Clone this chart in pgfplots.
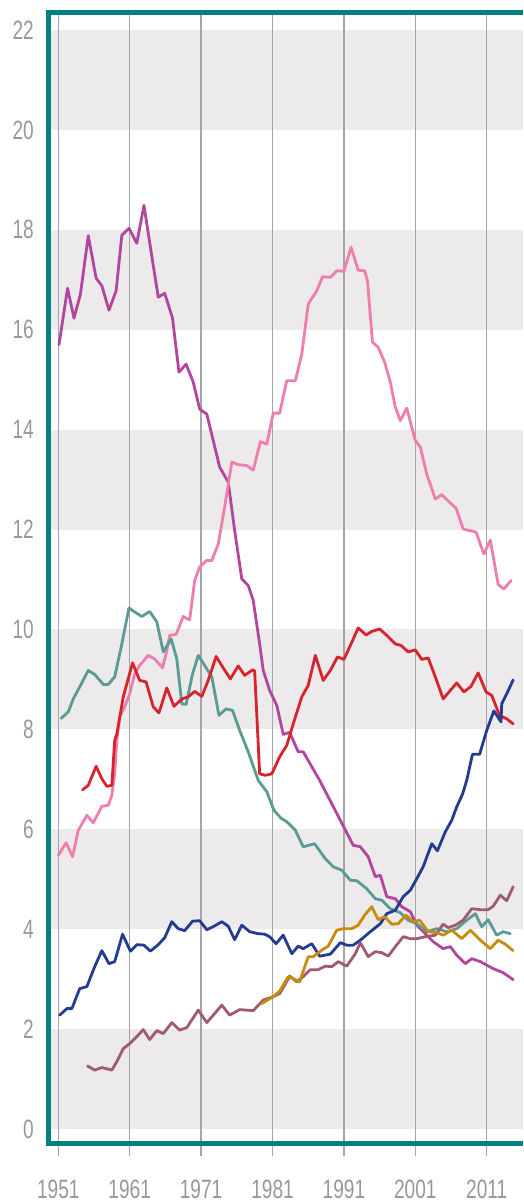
\documentclass[border=0pt]{standalone}
\usepackage{fontspec}
\setmainfont{Liberation Sans}[FakeStretch=0.72]
\usepackage{pgfplots}
\pgfplotsset{compat=1.18}
\definecolor{axisteal}{RGB}{0,128,133}
\definecolor{bandgray}{RGB}{236,234,235}
\definecolor{gridgray}{RGB}{165,165,165}
\definecolor{labelgray}{RGB}{152,152,156}
\definecolor{cpurple}{RGB}{178,70,158}
\definecolor{cpink}{RGB}{240,125,175}
\definecolor{cteal}{RGB}{90,155,148}
\definecolor{cred}{RGB}{215,35,45}
\definecolor{cblue}{RGB}{35,60,145}
\definecolor{cmauve}{RGB}{160,90,115}
\definecolor{cgold}{RGB}{200,140,10}
\begin{document}
\begin{tikzpicture}
\path[use as bounding box] (0,0) rectangle (523pt,1202pt);
\begin{axis}[
  at={(48.5pt,58.5pt)}, anchor=south west,
  scale only axis, width=474.5pt, height=1131pt,
  xmin=1949.63, xmax=2016.08, ymin=-0.29, ymax=22.35,
  axis line style={draw=none},
  major tick length=0pt,
  clip=false,
  xtick={1951,1961,1971,1981,1991,2001,2011},
  xticklabels={1951,1961,1971,1981,1991,2001,2011},
  ytick={0,2,4,6,8,10,12,14,16,18,20,22},
  yticklabels={0,2,4,6,8,10,12,14,16,18,20,22},
  tick label style={font=\fontsize{26.5}{30}\selectfont, text=labelgray, inner sep=0pt},
  xticklabel style={anchor=north, yshift=-36.5pt},
  yticklabel style={anchor=east, xshift=-14.5pt},
  every axis plot/.append style={line width=2.8pt, line join=round, line cap=round, no markers},
]
% bands
\fill[bandgray] (axis cs:1949.63,0) rectangle (axis cs:2016.08,2);
\fill[bandgray] (axis cs:1949.63,4) rectangle (axis cs:2016.08,6);
\fill[bandgray] (axis cs:1949.63,8) rectangle (axis cs:2016.08,10);
\fill[bandgray] (axis cs:1949.63,12) rectangle (axis cs:2016.08,14);
\fill[bandgray] (axis cs:1949.63,16) rectangle (axis cs:2016.08,18);
\fill[bandgray] (axis cs:1949.63,20) rectangle (axis cs:2016.08,22);
% grid lines
\pgfplotsinvokeforeach{1951,1961,1971,1981,1991,2001,2011}{
  \draw[gridgray, line width=1.3pt] (axis cs:#1,22.35) -- (axis cs:#1,-0.29) -- ++(0pt,-12.5pt);
}
% purple
\addplot[cpurple] coordinates {
(1951.1,15.70) (1952.3,16.83) (1953.2,16.23) (1954.1,16.71) (1955.2,17.88) (1956.3,17.03) (1957.1,16.88) (1958.1,16.39) (1959.1,16.78) (1959.9,17.89) (1960.9,18.03) (1962.0,17.73) (1963.0,18.49) (1963.9,17.65) (1965.0,16.65) (1965.9,16.73) (1967.0,16.23) (1967.9,15.15) (1968.9,15.31) (1969.9,14.95) (1970.8,14.41) (1971.8,14.31) (1972.7,13.78) (1973.6,13.25) (1974.8,12.95) (1975.7,11.98) (1976.7,11.01) (1977.6,10.88) (1978.3,10.58) (1979.2,9.71) (1979.7,9.18) (1980.6,8.78) (1981.6,8.48) (1982.5,7.90) (1983.4,7.94) (1984.6,7.55) (1985.3,7.55) (1987.6,6.98) (1990.5,6.18) (1992.3,5.68) (1993.3,5.65) (1994.4,5.45) (1995.4,5.05) (1996.1,5.08) (1997.0,4.65) (1998.2,4.61) (1999.1,4.45) (2000.3,4.35) (2001.2,4.08) (2002.6,3.88) (2003.5,3.75) (2004.9,3.61) (2005.9,3.65) (2006.8,3.48) (2008.0,3.31) (2008.9,3.41) (2010.1,3.35) (2011.9,3.21) (2013.3,3.13) (2014.7,2.99)
};
% pink
\addplot[cpink] coordinates {
(1951.0,5.48) (1952.1,5.73) (1953.0,5.45) (1953.8,5.98) (1955.0,6.28) (1955.9,6.13) (1957.1,6.46) (1958.0,6.48) (1958.5,6.68) (1958.9,7.11) (1959.2,7.78) (1959.6,8.25) (1960.3,8.45) (1961.0,8.71) (1961.7,9.11) (1962.4,9.28) (1963.6,9.48) (1964.5,9.41) (1965.6,9.23) (1966.2,9.58) (1966.6,9.88) (1967.5,9.90) (1968.5,10.26) (1969.4,10.19) (1970.1,10.98) (1970.8,11.25) (1971.8,11.38) (1972.5,11.38) (1973.4,11.71) (1974.3,12.45) (1975.3,13.35) (1976.2,13.30) (1977.4,13.28) (1978.3,13.19) (1979.3,13.76) (1980.2,13.71) (1981.1,14.33) (1982.0,14.33) (1983.0,14.98) (1984.2,14.98) (1985.1,15.51) (1986.0,16.51) (1987.2,16.78) (1988.0,17.06) (1989.1,17.05) (1990.0,17.18) (1991.0,17.17) (1992.0,17.65) (1993.0,17.19) (1993.9,17.18) (1994.3,16.98) (1995.0,15.75) (1995.8,15.65) (1996.7,15.35) (1997.5,14.95) (1998.2,14.45) (1998.9,14.18) (1999.8,14.43) (2001.0,13.78) (2001.7,13.65) (2002.6,13.11) (2003.8,12.61) (2004.7,12.70) (2005.9,12.53) (2006.7,12.43) (2007.7,12.01) (2009.5,11.95) (2010.6,11.51) (2011.5,11.79) (2012.6,10.90) (2013.4,10.81) (2014.4,10.98)
};
% teal
\addplot[cteal] coordinates {
(1951.4,8.22) (1952.4,8.35) (1953.1,8.61) (1954.0,8.85) (1955.2,9.18) (1956.1,9.10) (1957.3,8.90) (1958.0,8.90) (1958.9,9.05) (1959.9,9.71) (1960.9,10.43) (1961.7,10.35) (1962.7,10.26) (1963.8,10.36) (1964.8,10.15) (1965.7,9.55) (1966.8,9.81) (1967.6,9.41) (1968.3,8.51) (1968.9,8.50) (1969.8,9.11) (1970.6,9.48) (1971.5,9.28) (1972.5,9.05) (1973.5,8.28) (1974.5,8.41) (1975.4,8.38) (1976.4,7.98) (1977.6,7.55) (1979.0,6.98) (1980.2,6.75) (1981.2,6.38) (1982.2,6.22) (1983.0,6.15) (1984.2,5.98) (1985.3,5.65) (1986.9,5.71) (1988.4,5.41) (1989.5,5.25) (1990.7,5.18) (1991.9,4.98) (1992.8,4.97) (1994.2,4.81) (1995.4,4.61) (1996.3,4.58) (1997.5,4.41) (1998.9,4.33) (2000.0,4.18) (2001.2,4.11) (2002.6,3.95) (2004.0,4.01) (2005.4,3.95) (2006.8,4.01) (2008.2,4.18) (2009.4,4.31) (2010.3,4.05) (2011.2,4.19) (2012.4,3.88) (2013.3,3.95) (2014.3,3.91)
};
% red
\addplot[cred] coordinates {
(1954.4,6.79) (1955.2,6.88) (1956.3,7.26) (1957.1,7.01) (1957.8,6.86) (1958.5,6.88) (1958.9,7.78) (1959.2,7.91) (1960.1,8.65) (1961.4,9.33) (1962.4,8.98) (1963.3,8.95) (1964.3,8.45) (1965.1,8.33) (1966.2,8.83) (1967.2,8.46) (1968.3,8.61) (1969.2,8.65) (1970.1,8.76) (1971.1,8.66) (1972.0,8.98) (1973.1,9.46) (1974.1,9.23) (1975.1,9.01) (1976.2,9.27) (1977.1,9.08) (1978.2,9.19) (1978.5,9.17) (1979.2,7.11) (1980.0,7.08) (1980.9,7.11) (1982.0,7.45) (1983.0,7.68) (1983.9,8.11) (1985.1,8.65) (1986.0,8.88) (1987.0,9.48) (1988.1,8.98) (1989.1,9.18) (1990.1,9.45) (1991.0,9.40) (1992.0,9.71) (1993.0,10.03) (1994.1,9.89) (1994.9,9.96) (1996.0,10.01) (1997.0,9.88) (1998.2,9.71) (1999.0,9.68) (2000.0,9.55) (2001.0,9.59) (2001.9,9.40) (2002.8,9.43) (2003.8,9.05) (2004.9,8.61) (2005.9,8.78) (2006.8,8.93) (2007.8,8.75) (2008.8,8.86) (2009.8,9.13) (2010.9,8.75) (2011.7,8.68) (2012.8,8.28) (2013.8,8.21) (2014.7,8.11)
};
% blue
\addplot[cblue] coordinates {
(1951.2,2.28) (1952.2,2.41) (1952.9,2.41) (1954.0,2.81) (1955.0,2.85) (1956.1,3.25) (1957.1,3.57) (1958.1,3.31) (1958.9,3.35) (1960.0,3.90) (1961.1,3.56) (1962.0,3.69) (1963.0,3.68) (1963.9,3.56) (1965.0,3.69) (1965.9,3.83) (1966.9,4.15) (1967.8,4.01) (1968.7,3.97) (1969.8,4.16) (1970.8,4.17) (1971.8,3.99) (1972.7,4.05) (1973.9,4.15) (1974.8,4.06) (1975.7,3.79) (1976.7,4.08) (1977.8,3.95) (1979.0,3.91) (1979.9,3.90) (1980.6,3.85) (1981.5,3.71) (1982.5,3.88) (1983.7,3.51) (1984.6,3.66) (1985.3,3.61) (1986.5,3.71) (1987.6,3.46) (1989.1,3.50) (1990.5,3.73) (1991.4,3.68) (1992.3,3.68) (1993.3,3.78) (1994.7,3.95) (1996.1,4.11) (1997.0,4.31) (1998.2,4.38) (1999.3,4.65) (2000.3,4.78) (2001.2,5.01) (2002.1,5.25) (2003.3,5.71) (2004.1,5.57) (2005.2,5.95) (2006.1,6.18) (2006.8,6.45) (2007.6,6.70) (2008.2,6.98) (2009.0,7.50) (2010.0,7.50) (2011.0,7.98) (2012.0,8.37) (2013.0,8.15) (2013.1,8.51) (2013.8,8.71) (2014.7,8.99)
};
% mauve
\addplot[cmauve] coordinates {
(1955.1,1.26) (1956.1,1.18) (1957.1,1.23) (1958.5,1.18) (1959.2,1.35) (1960.1,1.61) (1961.0,1.71) (1962.0,1.85) (1962.9,1.99) (1963.8,1.79) (1964.8,1.97) (1965.7,1.91) (1966.9,2.13) (1968.0,1.98) (1969.0,2.03) (1970.6,2.38) (1971.8,2.13) (1972.7,2.28) (1973.9,2.48) (1975.0,2.28) (1976.4,2.39) (1978.3,2.37) (1979.7,2.58) (1981.1,2.65) (1982.0,2.71) (1982.7,2.88) (1983.4,3.06) (1984.4,2.95) (1985.3,3.05) (1986.3,3.19) (1987.4,3.19) (1988.4,3.26) (1989.3,3.25) (1990.2,3.35) (1991.4,3.26) (1992.6,3.51) (1993.3,3.73) (1994.4,3.45) (1995.4,3.55) (1996.3,3.53) (1997.2,3.46) (1998.2,3.65) (1999.3,3.85) (2000.3,3.81) (2001.2,3.81) (2002.4,3.85) (2003.8,3.88) (2004.9,4.10) (2005.6,4.03) (2006.6,4.08) (2007.7,4.18) (2008.9,4.41) (2010.1,4.39) (2011.2,4.39) (2011.9,4.46) (2012.9,4.68) (2013.8,4.57) (2014.7,4.85)
};
% gold
\addplot[cgold] coordinates {
(1979.5,2.51) (1981.1,2.65) (1982.0,2.76) (1983.2,3.05) (1983.9,3.01) (1984.8,2.95) (1986.0,3.45) (1986.7,3.45) (1987.9,3.58) (1988.8,3.66) (1990.0,3.98) (1990.9,4.01) (1992.1,4.01) (1993.0,4.08) (1993.9,4.28) (1994.9,4.45) (1995.8,4.19) (1996.7,4.25) (1997.7,4.10) (1998.6,4.11) (1999.7,4.28) (2000.7,4.15) (2001.6,4.18) (2002.8,3.95) (2004.0,3.93) (2004.9,3.88) (2006.1,3.98) (2007.5,3.81) (2008.7,3.98) (2010.1,3.78) (2011.5,3.61) (2012.6,3.78) (2013.6,3.70) (2014.7,3.57)
};
% axis frame
\draw[axisteal, line width=5pt, line join=miter] (rel axis cs:1,1) -- (rel axis cs:0,1) -- (rel axis cs:0,0) -- (rel axis cs:1,0);
\end{axis}
\end{tikzpicture}
\end{document}
